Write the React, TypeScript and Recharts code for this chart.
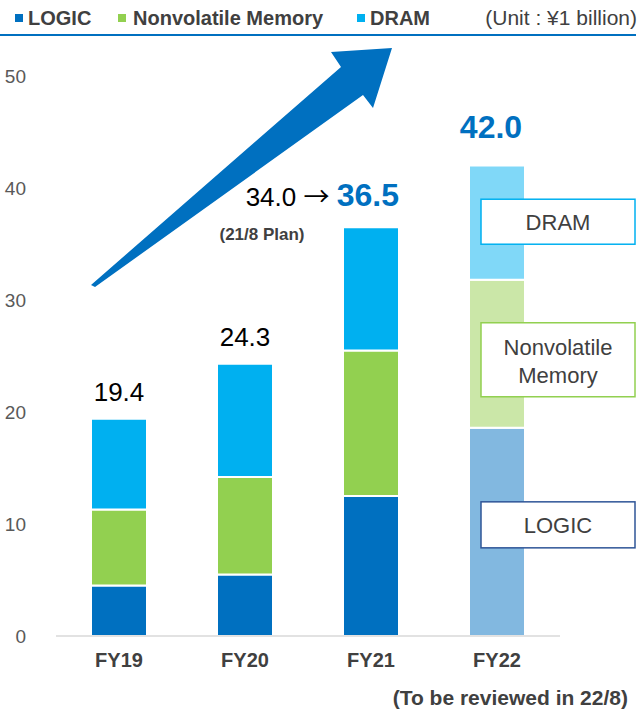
import React from "react";
import { BarChart, Bar, XAxis, YAxis, Cell, LabelList, Customized } from "recharts";

const years = ["FY19", "FY20", "FY21", "FY22"];
const logic = [4.5, 5.5, 12.5, 18.6];
const nonvolatile = [6.8, 8.7, 13.0, 13.2];
const dram = [8.1, 10.1, 11.0, 10.2];
const totals = [19.4, 24.3, 36.5, 42.0];
const planFY21 = 34.0;
const yTicks = [0, 10, 20, 30, 40, 50];

const FONT = "'Liberation Sans', Arial, sans-serif";
const BLUE = "#0070C0";
const GREEN = "#92D050";
const CYAN = "#00B0F0";
const LIGHT = { logic: "#82B8E0", nvm: "#CBE7A8", dram: "#80D8F8" };

const data = years.map((y, i) => ({
  year: y,
  logic: logic[i],
  nvm: nonvolatile[i],
  dram: dram[i],
  total: totals[i],
}));

const TotalLabel = (props: any) => {
  const { x, y, width, index, value } = props;
  const cx = x + width / 2;
  if (index === 2) {
    return (
      <g fontFamily={FONT}>
        <text x={x + width} y={y - 21} textAnchor="end">
          <tspan fontSize={26} fill="#000">{planFY21.toFixed(1)} </tspan>
          <tspan fontSize={26} fill="#000" fontFamily="'Noto Sans CJK JP'">→</tspan>
          <tspan fontSize={26} fill="#000"> </tspan>
          <tspan fontSize={32} fontWeight="bold" fill={BLUE}>{Number(value).toFixed(1)}</tspan>
        </text>
        <text x={x - 81} y={y + 13} textAnchor="middle" fontSize={17} fontWeight="bold" fill="#404040">
          (21/8 Plan)
        </text>
      </g>
    );
  }
  if (index === 3) {
    return (
      <text x={cx - 6} y={y - 28} textAnchor="middle" fontFamily={FONT} fontSize={32} fontWeight="bold" fill={BLUE}>
        {Number(value).toFixed(1)}
      </text>
    );
  }
  return (
    <text x={cx} y={y - 18} textAnchor="middle" fontFamily={FONT} fontSize={26} fill="#000">
      {Number(value).toFixed(1)}
    </text>
  );
};

const makeBoxLabel = (lines: string[], stroke: string, boxH: number, dy: number) => (props: any) => {
  const { x, y, height, index } = props;
  if (index !== 3) return null;
  const left = x + 12;
  const w = 154;
  const cy = y + height / 2 + dy;
  const cx = left + w / 2;
  return (
    <g fontFamily={FONT}>
      <rect x={left} y={cy - boxH / 2} width={w} height={boxH} fill="#fff" stroke={stroke} strokeWidth={1.5} />
      {lines.length === 1 ? (
        <text x={cx} y={cy + 8} textAnchor="middle" fontSize={22} fill="#404040">{lines[0]}</text>
      ) : (
        <>
          <text x={cx} y={cy - 5} textAnchor="middle" fontSize={22} fill="#404040">{lines[0]}</text>
          <text x={cx} y={cy + 23} textAnchor="middle" fontSize={22} fill="#404040">{lines[1]}</text>
        </>
      )}
    </g>
  );
};

const Decor = () => (
  <g fontFamily={FONT}>
    {/* header legend */}
    <rect x={15} y={14} width={8} height={8} fill={BLUE} />
    <text x={28} y={25} fontSize={20} fontWeight="bold" fill="#404040">LOGIC</text>
    <rect x={118} y={14} width={8} height={8} fill={GREEN} />
    <text x={133} y={25} fontSize={20} fontWeight="bold" fill="#404040">Nonvolatile Memory</text>
    <rect x={357} y={14} width={8} height={8} fill={CYAN} />
    <text x={370} y={25} fontSize={20} fontWeight="bold" fill="#404040">DRAM</text>
    <text x={637} y={25} textAnchor="end" fontSize={21} fill="#404040">(Unit : ¥1 billion)</text>
    <line x1={0} x2={636} y1={35} y2={35} stroke={BLUE} strokeWidth={2} />
    {/* growth arrow */}
    <polygon
      points="91,285 95,287 363,95 373,108 392,48 331,52 341,67"
      fill={BLUE}
    />
    <text x={628} y={705} textAnchor="end" fontSize={21} fontWeight="bold" fill="#404040">
      (To be reviewed in 22/8)
    </text>
  </g>
);

export default function App() {
  return (
    <div style={{ position: "absolute", left: 0, top: 0, width: 643, height: 709, background: "#fff" }}>
      <BarChart width={643} height={709} data={data} margin={{ top: 76, right: 83, bottom: 33, left: 16 }} barSize={56}>
        <XAxis
          dataKey="year"
          height={40}
          tickLine={false}
          axisLine={{ stroke: "#d9d9d9", strokeWidth: 1.5 }}
          tickMargin={11}
          tick={{ fontSize: 20, fontWeight: "bold", fill: "#404040", fontFamily: FONT }}
        />
        <YAxis
          domain={[0, 50]}
          ticks={yTicks}
          width={40}
          axisLine={false}
          tickLine={false}
          tickMargin={24}
          tick={{ fontSize: 19, fill: "#595959", fontFamily: FONT }}
        />
        <Bar dataKey="logic" stackId="a" fill={BLUE} stroke="#fff" strokeWidth={2} isAnimationActive={false}>
          {data.map((d, i) => (
            <Cell key={d.year} fill={i === 3 ? LIGHT.logic : BLUE} />
          ))}
          <LabelList dataKey="logic" content={makeBoxLabel(["LOGIC"], "#2F5597", 46, -7)} />
        </Bar>
        <Bar dataKey="nvm" stackId="a" fill={GREEN} stroke="#fff" strokeWidth={2} isAnimationActive={false}>
          {data.map((d, i) => (
            <Cell key={d.year} fill={i === 3 ? LIGHT.nvm : GREEN} />
          ))}
          <LabelList dataKey="nvm" content={makeBoxLabel(["Nonvolatile", "Memory"], GREEN, 74, 6)} />
        </Bar>
        <Bar dataKey="dram" stackId="a" fill={CYAN} stroke="#fff" strokeWidth={2} isAnimationActive={false}>
          {data.map((d, i) => (
            <Cell key={d.year} fill={i === 3 ? LIGHT.dram : CYAN} />
          ))}
          <LabelList dataKey="dram" content={makeBoxLabel(["DRAM"], CYAN, 45, -1)} />
          <LabelList dataKey="total" content={TotalLabel} />
        </Bar>
        <Customized component={Decor} />
      </BarChart>
    </div>
  );
}
